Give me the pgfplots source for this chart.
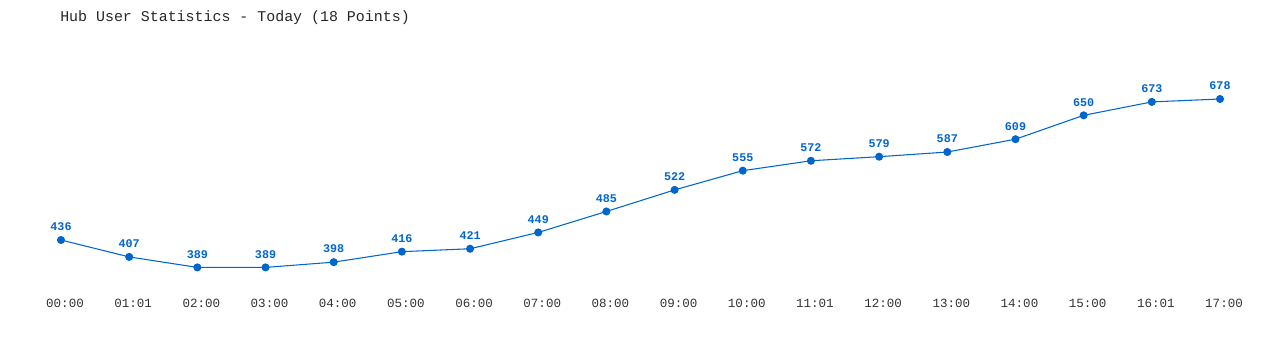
\documentclass[border=0pt]{standalone}
\usepackage{fontspec}
\setmainfont{Liberation Mono}
\usepackage{pgfplots}
\pgfplotsset{compat=1.18}
\definecolor{lineblue}{HTML}{0066CC}
\begin{document}
\begin{tikzpicture}
\useasboundingbox (0,0) rectangle (960pt,262.5pt);
\node[anchor=west,font=\fontsize{11.2pt}{13pt}\selectfont,text=black!85,inner sep=0pt] at (45pt,249pt) {Hub User Statistics - Today (18 Points)};
\begin{axis}[
  at={(45.75pt,61.95pt)}, anchor=south west,
  scale only axis, width=869.25pt, height=126.3pt,
  xmin=0, xmax=17, ymin=389, ymax=678,
  clip=false,
  axis line style={draw=none},
  major tick length=0pt,
  ytick=\empty,
  xtick={0,...,17},
  xticklabels={00:00,01:01,02:00,03:00,04:00,05:00,06:00,07:00,08:00,09:00,10:00,11:01,12:00,13:00,14:00,15:00,16:01,17:00},
  xticklabel style={font=\fontsize{9.4pt}{11pt}\selectfont, text=black!80, anchor=center, xshift=3pt, yshift=-26.7pt},
  /pgf/number format/assume math mode=true,
  nodes near coords,
  every node near coord/.append style={font=\fontsize{8.8pt}{10pt}\selectfont\bfseries, text=lineblue, anchor=center, yshift=9.8pt},
]
\addplot[color=lineblue, line width=0.8pt, mark=*, mark size=2.6pt, mark options={fill=lineblue,draw=lineblue}] coordinates {
(0,436) (1,407) (2,389) (3,389) (4,398) (5,416) (6,421) (7,449) (8,485) (9,522) (10,555) (11,572) (12,579) (13,587) (14,609) (15,650) (16,673) (17,678)
};
\end{axis}
\end{tikzpicture}
\end{document}
